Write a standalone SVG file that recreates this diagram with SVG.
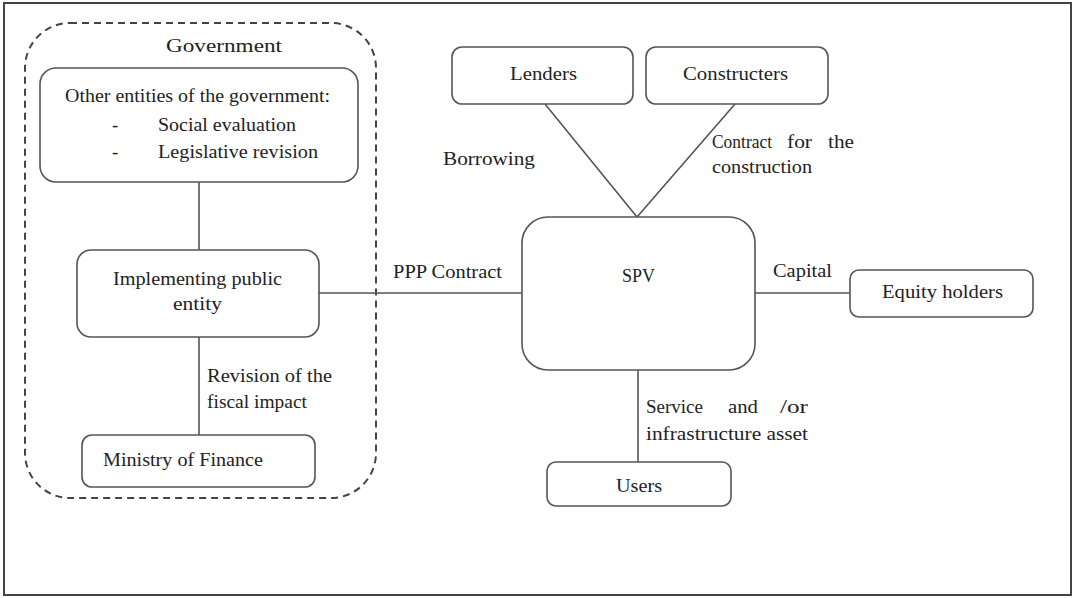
<svg xmlns="http://www.w3.org/2000/svg" width="1075" height="598" viewBox="0 0 1075 598">
<style>
.box{fill:#fff;stroke:#555;stroke-width:1.6}
.ln{stroke:#555;stroke-width:1.6;fill:none}
.t{font-family:'Liberation Serif','DejaVu Serif',serif;font-size:18.5px;fill:#222}
.dash{fill:none;stroke:#444;stroke-width:2;stroke-dasharray:7 5}
</style>
<rect x="0" y="0" width="1075" height="598" fill="#fff"/>
<rect x="4" y="3" width="1067" height="592" fill="none" stroke="#444" stroke-width="2"/>
<g id="government">
<rect class="dash" x="25" y="23" width="351" height="475" rx="45"/>
<text class="t" x="166" y="52" textLength="116" lengthAdjust="spacingAndGlyphs">Government</text>
</g>
<g id="connectors">
<line class="ln" x1="199" y1="182" x2="199" y2="250"/>
<line class="ln" x1="199" y1="337" x2="199" y2="435"/>
<line class="ln" x1="319" y1="293" x2="522" y2="293"/>
<line class="ln" x1="755" y1="293" x2="850" y2="293"/>
<line class="ln" x1="638" y1="370" x2="638" y2="462"/>
<polyline class="ln" points="545,104 637,217 735,104"/>
</g>
<g id="other-entities">
<rect class="box" x="40" y="68" width="318" height="114" rx="16"/>
<text class="t" x="65" y="102" textLength="265" lengthAdjust="spacingAndGlyphs">Other entities of the government:</text>
<text class="t" x="112" y="131">-</text>
<text class="t" x="158" y="131" textLength="138" lengthAdjust="spacingAndGlyphs">Social evaluation</text>
<text class="t" x="112" y="158">-</text>
<text class="t" x="158" y="158" textLength="160" lengthAdjust="spacingAndGlyphs">Legislative revision</text>
</g>
<g id="implementing">
<rect class="box" x="77" y="250" width="242" height="87" rx="14"/>
<text class="t" x="113" y="285" textLength="169" lengthAdjust="spacingAndGlyphs">Implementing public</text>
<text class="t" x="173" y="310" textLength="49" lengthAdjust="spacingAndGlyphs">entity</text>
</g>
<g id="ministry">
<rect class="box" x="82" y="435" width="233" height="52" rx="10"/>
<text class="t" x="103" y="466" textLength="160" lengthAdjust="spacingAndGlyphs">Ministry of Finance</text>
</g>
<g id="labels">
<text class="t" x="207" y="382" textLength="125" lengthAdjust="spacingAndGlyphs">Revision of the</text>
<text class="t" x="207" y="408" textLength="100" lengthAdjust="spacingAndGlyphs">fiscal impact</text>
<text class="t" x="393" y="278" textLength="109" lengthAdjust="spacingAndGlyphs">PPP Contract</text>
<text class="t" x="443" y="165" textLength="92" lengthAdjust="spacingAndGlyphs">Borrowing</text>
<text class="t" x="712" y="148" textLength="60" lengthAdjust="spacingAndGlyphs">Contract</text>
<text class="t" x="787" y="148" textLength="25" lengthAdjust="spacingAndGlyphs">for</text>
<text class="t" x="828" y="148" textLength="26" lengthAdjust="spacingAndGlyphs">the</text>
<text class="t" x="712" y="173" textLength="100" lengthAdjust="spacingAndGlyphs">construction</text>
<text class="t" x="773" y="277" textLength="59" lengthAdjust="spacingAndGlyphs">Capital</text>
<text class="t" x="646" y="413" textLength="57" lengthAdjust="spacingAndGlyphs">Service</text>
<text class="t" x="728" y="413" textLength="30" lengthAdjust="spacingAndGlyphs">and</text>
<text class="t" x="780" y="413" textLength="28" lengthAdjust="spacingAndGlyphs">/or</text>
<text class="t" x="646" y="440" textLength="162" lengthAdjust="spacingAndGlyphs">infrastructure asset</text>
</g>
<g id="lenders">
<rect class="box" x="452" y="47" width="181" height="57" rx="10"/>
<text class="t" x="510" y="80" textLength="67" lengthAdjust="spacingAndGlyphs">Lenders</text>
</g>
<g id="constructers">
<rect class="box" x="646" y="47" width="182" height="57" rx="10"/>
<text class="t" x="683" y="80" textLength="105" lengthAdjust="spacingAndGlyphs">Constructers</text>
</g>
<g id="spv">
<rect class="box" x="522" y="217" width="233" height="153" rx="26"/>
<text class="t" x="622" y="282" textLength="33" lengthAdjust="spacingAndGlyphs">SPV</text>
</g>
<g id="equity">
<rect class="box" x="850" y="270" width="183" height="47" rx="9"/>
<text class="t" x="882" y="298" textLength="121" lengthAdjust="spacingAndGlyphs">Equity holders</text>
</g>
<g id="users">
<rect class="box" x="547" y="462" width="184" height="44" rx="9"/>
<text class="t" x="616" y="492" textLength="46" lengthAdjust="spacingAndGlyphs">Users</text>
</g>
</svg>
